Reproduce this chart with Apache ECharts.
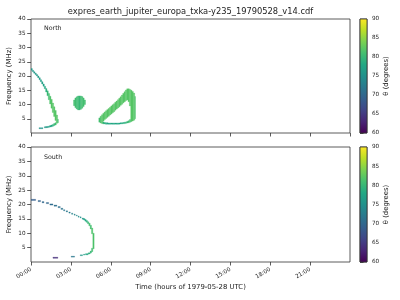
<!DOCTYPE html>
<html><head><meta charset="utf-8">
<script src="https://cdn.jsdelivr.net/npm/echarts@6/dist/echarts.min.js"></script>
<style>html,body{margin:0;padding:0;background:#fff}#c{width:400px;height:300px}</style>
</head><body><div id="c"></div>
<script>
// ---- data ----
const title = 'expres_earth_jupiter_europa_txka-y235_19790528_v14.cdf';
const panelNames = ['North', 'South'];
const xLabel = 'Time (hours of 1979-05-28 UTC)';
const yLabel = 'Frequency (MHz)';
const cLabel = 'θ (degrees)';
const timeTicksHours = [0, 3, 6, 9, 12, 15, 18, 21];
const freqTicks = [5, 10, 15, 20, 25, 30, 35, 40];
const thetaTicks = [60, 65, 70, 75, 80, 85, 90];

// cells: [tStart (h), tEnd (h), fLow (MHz), fHigh (MHz), theta (deg)]
const northArcUpper = [
  [0.0,0.1,22.0,22.6,76],[0.1,0.2,21.5,22.0,76],[0.2,0.3,21.0,21.5,76],[0.3,0.4,20.5,21.0,76],
  [0.4,0.5,20.0,20.5,76],[0.5,0.6,19.4,20.0,76.5],[0.6,0.7,18.7,19.4,76.5],[0.7,0.8,18.0,18.7,77],
  [0.8,0.9,17.2,18.0,77],[0.9,1.0,16.4,17.2,77.5],[1.0,1.1,15.5,16.4,78],[1.1,1.2,14.4,15.6,79],
  [1.2,1.3,13.1,14.8,80],[1.3,1.4,11.7,13.9,81],[1.4,1.5,10.2,12.9,81.5],[1.5,1.6,8.7,11.8,82],
  [1.6,1.7,7.2,10.5,82],[1.7,1.8,5.8,9.2,82],[1.8,1.9,4.4,7.9,82],[1.9,2.0,3.4,6.3,82],
  [2.0,2.06,3.6,4.8,81]
];
const northArcLower = [
  [0.6,0.9,1.5,1.85,75.5],[1.0,1.1,1.8,2.2,76],[1.1,1.2,1.85,2.25,76],[1.2,1.3,1.9,2.3,76.5],
  [1.3,1.4,2.0,2.4,77],[1.4,1.5,2.1,2.6,77.5],[1.5,1.6,2.2,2.8,78],[1.6,1.7,2.4,3.0,79],
  [1.7,1.8,2.6,3.3,80],[1.8,1.9,2.8,3.6,81]
];
const northBlob = [
  [3.2,3.3,9.6,11.6,81],[3.3,3.4,8.9,12.3,81],[3.4,3.5,8.4,12.7,80.5],[3.5,3.6,8.1,13.0,80.5],
  [3.6,3.7,8.1,13.0,80],[3.7,3.8,8.3,13.0,80.5],[3.8,3.9,8.7,12.8,81],[3.9,4.0,9.3,12.3,81],
  [4.0,4.1,10.0,11.6,81]
];
const northLoopUpper = [
  [5.1,5.2,3.8,5.3,81],[5.2,5.3,3.5,5.9,81.5],[5.3,5.4,3.3,6.4,82],[5.4,5.5,4.2,6.9,82],
  [5.5,5.6,4.7,7.4,82],[5.6,5.7,5.1,7.8,82],[5.7,5.8,5.5,8.2,82],[5.8,5.9,5.9,8.6,82],
  [5.9,6.0,6.3,9.0,82],[6.0,6.1,6.7,9.5,82],[6.1,6.2,7.1,9.9,82],[6.2,6.3,7.5,10.3,82],
  [6.3,6.4,8.0,10.8,82],[6.4,6.5,8.4,11.2,82],[6.5,6.6,8.8,11.7,82],[6.6,6.7,9.2,12.2,82],
  [6.7,6.8,9.7,12.7,82],[6.8,6.9,10.1,13.3,82],[6.9,7.0,10.6,13.9,82],[7.0,7.1,11.0,14.5,82],
  [7.1,7.2,11.4,15.1,82],[7.2,7.3,11.6,15.5,82],[7.3,7.4,11.0,15.5,82],[7.4,7.5,9.5,15.3,82],
  [7.5,7.6,4.0,15.0,82],[7.6,7.7,4.2,14.6,82],[7.7,7.8,4.5,14.0,82],[7.8,7.86,5.0,12.8,81.5]
];
const northLoopLower = [
  [5.4,5.5,3.2,3.9,79.5],[5.5,5.6,3.2,3.7,79],[5.6,5.7,3.1,3.6,78.5],[5.7,5.8,3.1,3.6,78],
  [5.8,5.9,3.1,3.5,78],[5.9,6.0,3.1,3.5,78],[6.0,6.1,3.1,3.5,78],[6.1,6.2,3.1,3.5,78],
  [6.2,6.3,3.1,3.5,78],[6.3,6.4,3.1,3.5,78],[6.4,6.5,3.1,3.5,78],[6.5,6.6,3.1,3.5,78],
  [6.6,6.7,3.1,3.5,78],[6.7,6.8,3.2,3.6,78],[6.8,6.9,3.2,3.6,78.5],[6.9,7.0,3.3,3.7,78.5],
  [7.0,7.1,3.3,3.8,79],[7.1,7.2,3.4,3.9,79.5],[7.2,7.3,3.5,4.1,80],[7.3,7.4,3.6,4.3,80.5],
  [7.4,7.5,3.8,4.7,81]
];
const southArc = [
  [0.00,0.35,21.4,21.8,69],[0.53,0.72,21.0,21.4,69.5],[0.83,0.98,20.6,21.0,70],[1.15,1.33,20.3,20.7,70],
  [1.42,1.65,19.8,20.2,70.5],[1.73,1.95,19.4,19.8,71],[2.03,2.20,18.9,19.3,71],[2.25,2.40,18.3,18.7,71.5],
  [2.45,2.55,17.8,18.2,72],[2.65,2.75,17.4,17.8,72],[2.85,2.95,17.0,17.4,72.5],[3.05,3.15,16.6,17.0,73],
  [3.25,3.32,16.3,16.7,73.5],[3.40,3.48,16.0,16.3,74],[3.55,3.62,15.6,16.0,74.5],[3.70,3.77,15.3,15.7,75],
  [3.85,3.95,14.9,15.3,76],[3.95,4.05,14.6,15.1,77],[4.05,4.15,14.2,14.8,78],[4.15,4.25,13.8,14.4,79],
  [4.25,4.35,13.3,14.0,80],[4.35,4.45,12.6,13.5,81],[4.45,4.55,11.5,12.8,81],[4.55,4.65,9.8,11.8,81.5],
  [4.65,4.75,4.6,10.0,81.5],[4.55,4.65,3.6,4.8,81],[4.45,4.55,3.1,3.8,80],[4.30,4.45,2.8,3.2,79],
  [4.10,4.30,2.5,2.9,78],[3.95,4.05,2.4,2.7,77],[3.70,3.88,2.2,2.5,76],[3.02,3.28,1.7,2.0,72],
  [1.65,2.02,1.3,1.65,64]
];
const northCells = [].concat(northArcUpper, northArcLower, northBlob, northLoopUpper, northLoopLower);
const southCells = southArc;

// ---- chart ----
const viridis = ['#440154','#482475','#414487','#355f8d','#2a788e','#21918c','#22a884','#44bf70','#7ad151','#bddf26','#fde725'];
const FONT = 'DejaVu Sans';
const TXT = '#222';
const AX = '#333';
const TICK_FS = 5.7;
const LABEL_FS = 6.9;
const pad = n => (n < 10 ? '0' : '') + n;

function cellItem(params, api) {
  const p0 = api.coord([api.value(0), api.value(3)]);
  const p1 = api.coord([api.value(1), api.value(2)]);
  const c = api.visual('color');
  return {
    type: 'rect',
    shape: { x: p0[0], y: p0[1], width: p1[0] - p0[0], height: p1[1] - p0[1] },
    style: { fill: c, stroke: c, lineWidth: 0.3 }
  };
}
function colorbarItem(params, api) {
  const p0 = api.coord([0, api.value(1)]);
  const p1 = api.coord([1, api.value(0)]);
  return {
    type: 'rect',
    shape: { x: p0[0], y: p0[1], width: p1[0] - p0[0], height: p1[1] - p0[1] },
    style: {
      fill: { type: 'linear', x: 0, y: 1, x2: 0, y2: 0,
        colorStops: viridis.map((c, i) => ({ offset: i / (viridis.length - 1), color: c })) },
      stroke: AX, lineWidth: 0.8
    }
  };
}

const grids = [
  { left: 31, top: 19, width: 319, height: 114 },
  { left: 31, top: 147, width: 319, height: 115 },
  { left: 360, top: 19, width: 7, height: 114 },
  { left: 360, top: 147, width: 7, height: 115 }
].map(g => Object.assign({ show: true, borderColor: AX, borderWidth: 0.8, backgroundColor: '#fff',
  containLabel: false, outerBoundsMode: 'none' }, g));

function mainX(idx, showLabels) {
  return {
    type: 'value', gridIndex: idx, min: 0, max: 24, interval: 3,
    axisLine: { show: false }, splitLine: { show: false },
    axisTick: { show: true, length: 3.5, lineStyle: { color: AX, width: 0.8 } },
    axisLabel: { show: showLabels, showMaxLabel: false, rotate: 30, align: 'right', verticalAlign: 'middle',
      fontSize: TICK_FS, fontFamily: FONT, color: TXT, margin: 7, hideOverlap: false,
      formatter: v => pad(v) + ':00' },
    name: showLabels ? xLabel : '', nameLocation: 'middle', nameGap: 22, nameMoveOverlap: false,
    nameTextStyle: { fontSize: LABEL_FS, fontFamily: FONT, color: TXT, verticalAlign: 'top' }
  };
}
function mainY(idx) {
  return {
    type: 'value', gridIndex: idx, min: 0, max: 40, interval: 5,
    axisLine: { show: false }, splitLine: { show: false },
    axisTick: { show: true, length: 3.8, lineStyle: { color: AX, width: 0.8 } },
    axisLabel: { showMinLabel: false, fontSize: TICK_FS, fontFamily: FONT, color: TXT, margin: 5.5 },
    name: yLabel, nameLocation: 'middle', nameGap: 18, nameRotate: 90, nameMoveOverlap: false,
    nameTextStyle: { fontSize: LABEL_FS, fontFamily: FONT, color: TXT }
  };
}
function cbX(idx) {
  return { type: 'value', gridIndex: idx, min: 0, max: 1, show: false };
}
function cbY(idx) {
  return {
    type: 'value', gridIndex: idx, min: thetaTicks[0], max: thetaTicks[thetaTicks.length - 1], interval: 5,
    position: 'right', axisLine: { show: false }, splitLine: { show: false },
    axisTick: { show: true, length: 3.5, lineStyle: { color: AX, width: 0.8 } },
    axisLabel: { fontSize: TICK_FS, fontFamily: FONT, color: TXT, margin: 5 },
    name: cLabel, nameLocation: 'middle', nameGap: 16, nameRotate: 90, nameMoveOverlap: false,
    nameTextStyle: { fontSize: LABEL_FS, fontFamily: FONT, color: TXT }
  };
}

const option = {
  animation: false,
  backgroundColor: '#fff',
  title: { text: title, left: 185.5, top: 3, textAlign: 'center',
    textStyle: { fontSize: 8.3, fontWeight: 'normal', fontFamily: FONT, color: TXT } },
  grid: grids,
  xAxis: [mainX(0, false), mainX(1, true), cbX(2), cbX(3)],
  yAxis: [mainY(0), mainY(1), cbY(2), cbY(3)],
  visualMap: { show: false, type: 'continuous', min: 60, max: 90, dimension: 4, seriesIndex: [0, 1],
    inRange: { color: viridis } },
  graphic: [
    { type: 'text', left: 44, top: 25.5, style: { text: panelNames[0], fontSize: 6.3, fontFamily: FONT, fill: TXT } },
    { type: 'text', left: 44, top: 154.5, style: { text: panelNames[1], fontSize: 6.3, fontFamily: FONT, fill: TXT } }
  ],
  series: [
    { type: 'custom', xAxisIndex: 0, yAxisIndex: 0, data: northCells, renderItem: cellItem,
      encode: { x: [0, 1], y: [2, 3] }, clip: true },
    { type: 'custom', xAxisIndex: 1, yAxisIndex: 1, data: southCells, renderItem: cellItem,
      encode: { x: [0, 1], y: [2, 3] }, clip: true },
    { type: 'custom', xAxisIndex: 2, yAxisIndex: 2, data: [[60, 90]], renderItem: colorbarItem, encode: { y: [0, 1] } },
    { type: 'custom', xAxisIndex: 3, yAxisIndex: 3, data: [[60, 90]], renderItem: colorbarItem, encode: { y: [0, 1] } }
  ]
};
const chart = echarts.init(document.getElementById('c'), null, { renderer: 'canvas' });
chart.setOption(option);
</script></body></html>
